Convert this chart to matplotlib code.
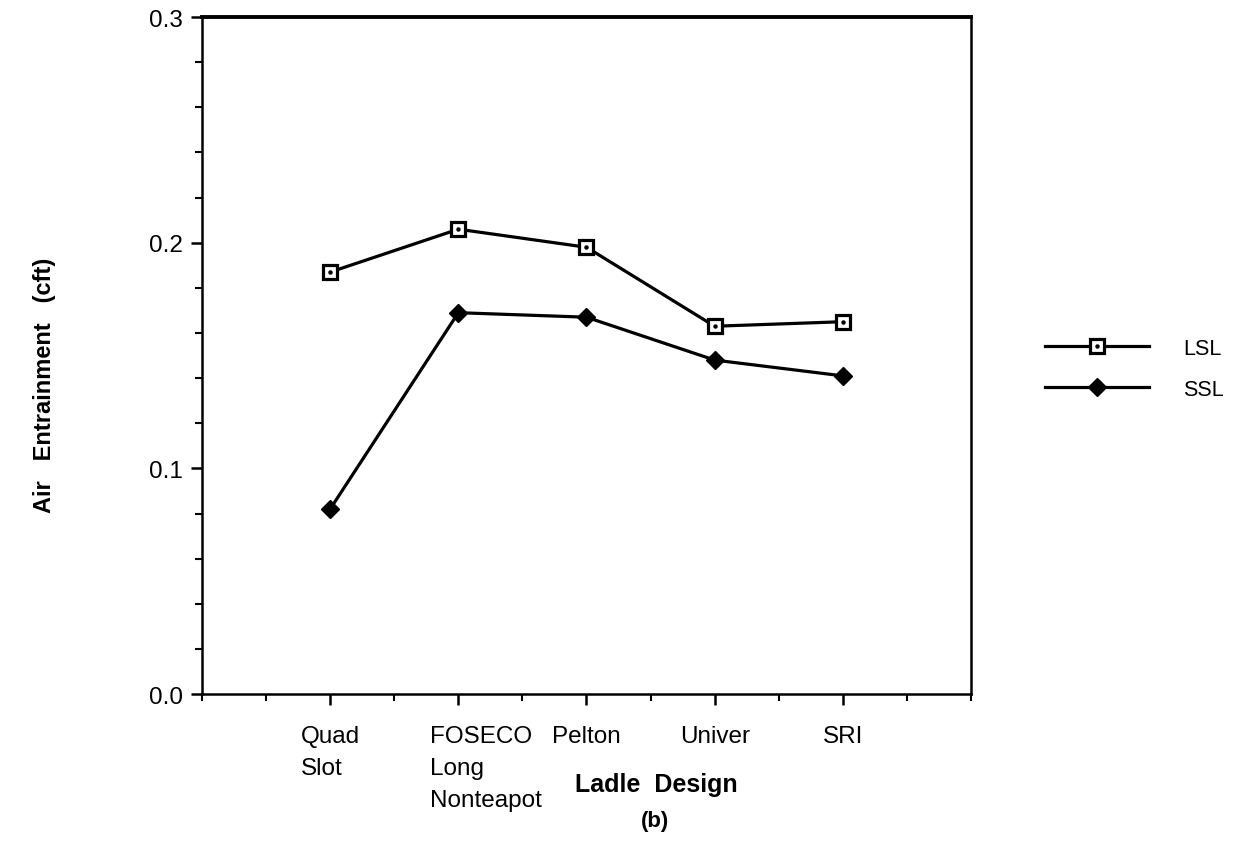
import numpy as np
import matplotlib.pyplot as plt
import matplotlib.transforms as mtransforms
from matplotlib.ticker import MultipleLocator

# Dados
designs = ["Quad\nSlot", "FOSECO\nLong\nNonteapot", "Pelton", "Univer", "SRI"]
lsl = [0.187, 0.206, 0.198, 0.163, 0.165]
ssl = [0.082, 0.169, 0.167, 0.148, 0.141]

plt.rcParams["font.family"] = ["Liberation Sans", "DejaVu Sans"]

fig = plt.figure(figsize=(12.41, 8.62), dpi=100)
ax = fig.add_axes([0.1628, 0.1937, 0.6196, 0.7853])

x = np.arange(1, len(designs) + 1)

l1, = ax.plot(x, lsl, color="black", lw=2.3, marker="s", ms=9.5,
              mfc="white", mec="black", mew=2.3, label="LSL")
d1, = ax.plot(x, lsl, ls="none", marker="o", ms=2.2, color="black")
l2, = ax.plot(x, ssl, color="black", lw=2.3, marker="D", ms=9,
              mfc="black", mec="black", label="SSL")

ax.set_xlim(0, 6)
ax.set_ylim(0, 0.3)

ax.set_xticks(x)
ax.set_xticklabels(designs, fontsize=17.5, multialignment="left",
                   va="top", linespacing=1.6)
ax.xaxis.set_minor_locator(MultipleLocator(0.5))
ax.yaxis.set_major_locator(MultipleLocator(0.1))
ax.yaxis.set_minor_locator(MultipleLocator(0.02))
ax.yaxis.set_major_formatter(plt.FormatStrFormatter("%.1f"))

ax.tick_params(axis="both", which="major", direction="out", length=8,
               width=1.8, labelsize=17.5, pad=6)
ax.tick_params(axis="both", which="minor", direction="out", length=5,
               width=1.5)
ax.tick_params(axis="x", which="major", pad=14)
ax.tick_params(right=False, top=False)

for s in ax.spines.values():
    s.set_linewidth(1.8)
ax.spines["top"].set_linewidth(2.8)

# desloca o rótulo FOSECO um pouco para a direita, como no original
lbl = ax.get_xticklabels()[1]
lbl.set_transform(lbl.get_transform() + mtransforms.ScaledTranslation(0.28, 0, fig.dpi_scale_trans))

fig.text(656 / 1241, 1 - 785 / 862, "Ladle  Design", fontsize=18,
         fontweight="bold", ha="center", va="center")
fig.text(655 / 1241, 1 - 822 / 862, "(b)", fontsize=16, fontweight="bold",
         ha="center", va="center")
fig.text(45 / 1241, 1 - 385 / 862, "Air   Entrainment   (cft)", fontsize=17,
         fontweight="bold", ha="center", va="center", rotation=90)

fig.legend([(l1, d1), l2], ["LSL", "SSL"], loc="center left",
           bbox_to_anchor=(0.832, 0.571), frameon=False, fontsize=15.5,
           handlelength=4.8, handletextpad=1.6, labelspacing=0.95,
           borderpad=0.1)

fig.savefig("out.png", dpi=100)
